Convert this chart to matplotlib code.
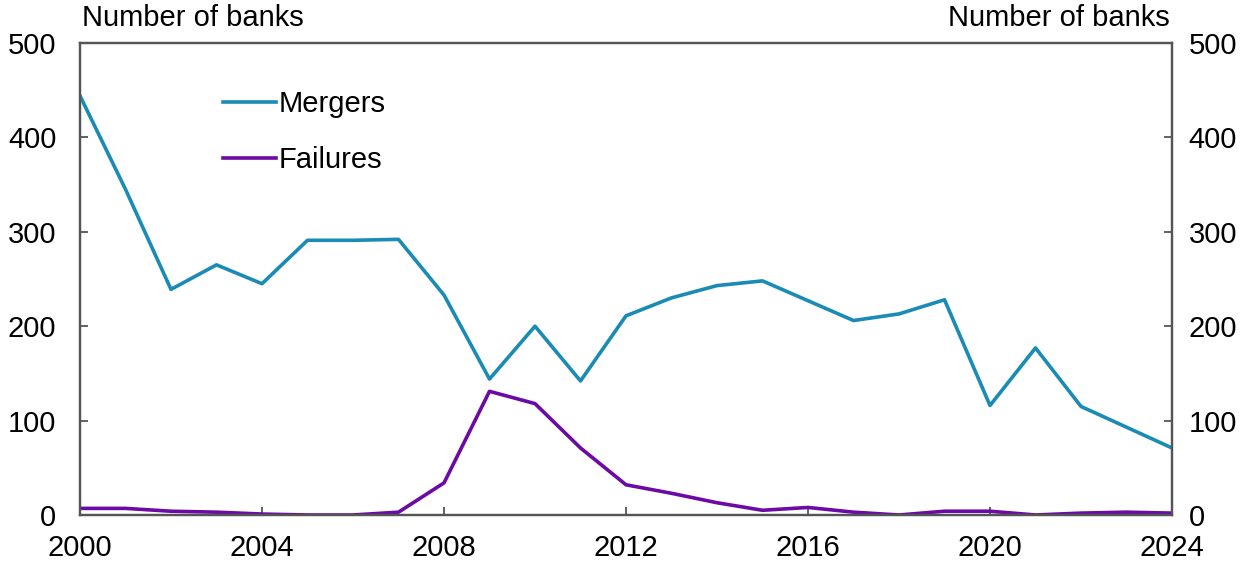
import matplotlib
matplotlib.use("Agg")
import matplotlib.pyplot as plt

years = list(range(2000, 2025))
mergers = [444, 345, 239, 265, 245, 291, 291, 292, 233, 144, 200, 142, 211, 230, 243, 248,
           227, 206, 213, 228, 116, 177, 115, 93, 71]
failures = [7, 7, 4, 3, 1, 0, 0, 3, 34, 131, 118, 71, 32, 23, 13, 5,
            8, 3, 0, 4, 4, 0, 2, 3, 2]
xticks = [2000, 2004, 2008, 2012, 2016, 2020, 2024]
yticks = [0, 100, 200, 300, 400, 500]

plt.rcParams['font.family'] = ['Liberation Sans', 'DejaVu Sans']
FS = 21

fig = plt.figure(figsize=(12.48, 5.65), dpi=100)
ax = fig.add_axes([0.0641, 0.0885, 0.8750, 0.8354])
ax2 = ax.twinx()

ax.plot(years, mergers, color='#1a8bb5', lw=2.6, label='Mergers')
ax.plot(years, failures, color='#6c0aa5', lw=2.6, label='Failures')

ax.set_xlim(2000, 2024)
for a in (ax, ax2):
    a.set_ylim(0, 500)
    a.set_yticks(yticks)
    for s in a.spines.values():
        s.set_color('#555555')
        s.set_linewidth(1.6)
ax.set_xticks(xticks)
ax.tick_params(axis='x', direction='in', length=6, width=1.3, color='#555555',
               labelsize=FS, pad=14)
ax.tick_params(axis='y', direction='in', length=6, width=1.3, color='#555555',
               labelsize=FS, pad=17)
ax2.tick_params(axis='y', direction='in', length=6, width=1.3, color='#555555',
                labelsize=FS, pad=12)

fig.text(0.066, 0.968, 'Number of banks', fontsize=FS, ha='left', va='center')
fig.text(0.937, 0.968, 'Number of banks', fontsize=FS, ha='right', va='center')

leg = ax.legend(loc='upper left', bbox_to_anchor=(0.107, 0.955), frameon=False,
                fontsize=FS, handlelength=1.8, handletextpad=0.1, labelspacing=0.95)

fig.savefig('out.png', dpi=100)
